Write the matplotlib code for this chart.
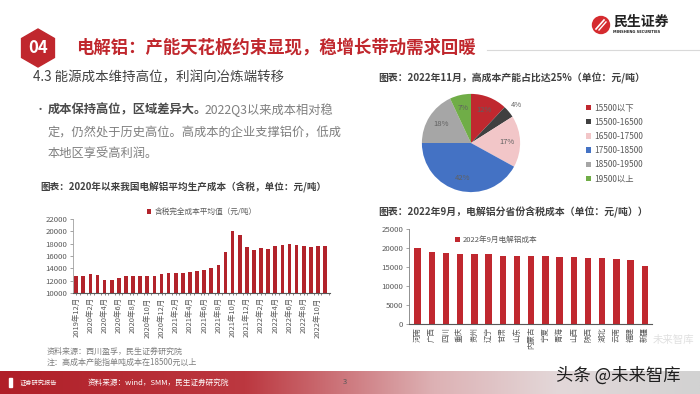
import numpy as np
import matplotlib
matplotlib.use("Agg")
import matplotlib.pyplot as plt
from matplotlib.patches import Polygon, Circle, Rectangle
from matplotlib.colors import LinearSegmentedColormap

plt.rcParams['font.family'] = ['Noto Sans CJK SC', 'DejaVu Sans']
plt.rcParams['axes.unicode_minus'] = False

# ---- data ----
months = ['2019年12月', '2020年1月', '2020年2月', '2020年3月', '2020年4月', '2020年5月',
          '2020年6月', '2020年7月', '2020年8月', '2020年9月', '2020年10月', '2020年11月',
          '2020年12月', '2021年1月', '2021年2月', '2021年3月', '2021年4月', '2021年5月',
          '2021年6月', '2021年7月', '2021年8月', '2021年9月', '2021年10月', '2021年11月',
          '2021年12月', '2022年1月', '2022年2月', '2022年3月', '2022年4月', '2022年5月',
          '2022年6月', '2022年7月', '2022年8月', '2022年9月', '2022年10月', '2022年11月']
avg_cost = [12800, 12800, 13000, 12900, 12100, 12100, 12400, 12800, 12700, 12800,
            12800, 12800, 13000, 13200, 13200, 13200, 13400, 13600, 13800, 14000,
            14500, 16600, 20000, 19400, 17400, 16900, 17300, 17200, 17600, 17800,
            18000, 17800, 17600, 17500, 17600, 17700]

pie_labels = ['15500以下', '15500-16500', '16500-17500', '17500-18500', '18500-19500', '19500以上']
pie_share = [12, 4, 17, 42, 18, 7]
pie_colors = ['#C0282F', '#404040', '#F2C6C8', '#4472C4', '#A6A6A6', '#70AD47']

provinces = ['河南', '广西', '四川', '重庆', '贵州', '辽宁', '甘肃', '山东', '内蒙古',
             '宁夏', '青海', '山西', '陕西', '湖北', '云南', '福建', '新疆']
prov_cost = [20000, 19000, 18700, 18500, 18500, 18300, 17900, 17900, 17900,
             17800, 17600, 17600, 17400, 17300, 17000, 16800, 15300]

W, H = 700, 394
TXT = '#404040'


def px(x0, y0, x1, y1):
    return [x0 / W, 1 - y1 / H, (x1 - x0) / W, (y1 - y0) / H]


fig = plt.figure(figsize=(7, 3.94), dpi=100)
fig.patch.set_facecolor('white')

# ---- slide background / decorations (pixel coords) ----
bg = fig.add_axes([0, 0, 1, 1], zorder=0)
bg.axis('off')

cmap = LinearSegmentedColormap.from_list(
    'foot', [(0, '#B01F28'), (0.35, '#BC3840'), (0.62, '#DDB1B4'), (0.8, '#E3D8D9'), (1, '#D2D2D2')])
bg.imshow(np.linspace(0, 1, 256)[None, :], extent=[0, 700, 394, 371], aspect='auto', cmap=cmap)
bg.set_xlim(0, W)
bg.set_ylim(H, 0)

# badge + title
ang = np.deg2rad([90, 150, 210, 270, 330, 30])
hexa = np.column_stack([38 + 19 * np.cos(ang), 48 - 19 * np.sin(ang)])
bg.add_patch(Polygon(hexa, closed=True, color='#C0272D'))
bg.text(38, 48, '04', color='white', fontsize=12, fontweight='bold', ha='center', va='center')
bg.text(76, 48, '电解铝：产能天花板约束显现，稳增长带动需求回暖', color='#C0272D',
        fontsize=12.5, fontweight='bold', va='center')
bg.plot([487, 700], [50, 50], color='#D9D9D9', lw=0.8)

# logo
bg.add_patch(Circle((601, 25), 8.5, color='#D52B2F'))
bg.plot([596, 604], [29, 20], color='white', lw=1.2)
bg.plot([599, 606], [30, 22], color='white', lw=1.0)
bg.text(613, 22, '民生证券', fontsize=10, fontweight='bold', color='#222222', va='center')
bg.text(613, 32, 'MINSHENG SECURITIES', fontsize=2.6, fontweight='bold', color='#222222',
        va='center', family='DejaVu Sans')

bg.text(33, 77, '4.3 能源成本维持高位，利润向冶炼端转移', fontsize=9.7, color=TXT,
        fontweight='medium', va='center')

# bullet
bg.text(35, 110, '•', fontsize=8, color='#595959', va='center')
t1 = bg.text(48, 110, '成本保持高位，区域差异大。', fontsize=8.8, fontweight='bold',
             color='#4A4A4A', va='center')
bg.annotate('2022Q3以来成本相对稳', xy=(1, 0.5), xycoords=t1, xytext=(-2, 0),
            textcoords='offset points', fontsize=8.8, color='#7F7F7F', va='center', ha='left')
bg.text(48, 132, '定，仍然处于历史高位。高成本的企业支撑铝价，低成', fontsize=8.8,
        color='#7F7F7F', va='center')
bg.text(48, 153, '本地区享受高利润。', fontsize=8.8, color='#7F7F7F', va='center')

# chart titles
bg.text(40, 187, '图表：2020年以来我国电解铝平均生产成本（含税，单位：元/吨）',
        fontsize=6.9, fontweight='bold', color=TXT, va='center')
bg.text(378, 78, '图表：2022年11月，高成本产能占比达25%（单位：元/吨）',
        fontsize=7.1, fontweight='bold', color=TXT, va='center')
bg.text(378, 212, '图表：2022年9月，电解铝分省份含税成本（单位：元/吨））',
        fontsize=7.1, fontweight='bold', color=TXT, va='center')

# sources / footer
bg.text(47, 351, '资料来源：西川盈孚，民生证券研究院', fontsize=5.8, color='#7F7F7F', va='center')
bg.text(47, 362, '注：高成本产能指单吨成本在18500元以上', fontsize=5.8, color='#7F7F7F', va='center')
bg.add_patch(Rectangle((9, 378), 3, 9, color='white'))
bg.text(20, 383, '证券研究报告', fontsize=4.5, color='white', va='center')
bg.text(88, 383, '资料来源：wind，SMM，民生证券研究院', fontsize=5.5, color='white', va='center')
bg.text(345, 382, '3', fontsize=5.5, color='#595959', va='center', ha='center')
bg.text(653, 340, '未来智库', fontsize=7.5, color='#E0E0E0', va='center')
bg.text(556, 376, '头条 @未来智库', fontsize=12.5, color='#1E1E1E', va='center')

# ---- left bar chart ----
ax1 = fig.add_axes(px(73, 219, 330, 293))
x1 = np.arange(len(months))
ax1.bar(x1, avg_cost, width=0.52, color='#B2232B', label='含税完全成本平均值（元/吨）')
ax1.set_ylim(10000, 22000)
ax1.set_yticks(np.arange(10000, 22001, 2000))
ax1.set_xlim(-0.45, 35.7)
ax1.set_xticks(x1[::2])
ax1.set_xticklabels(months[::2], rotation=90, fontsize=5.4, color='#595959')
ax1.set_xticks(x1 + 0.5, minor=True)
ax1.tick_params(axis='y', labelsize=5.6, labelcolor='#595959', length=2, width=0.5,
                color='#7f7f7f', pad=2)
ax1.tick_params(axis='x', which='both', length=1.5, width=0.5, color='#595959', pad=1.5)
for s in ['top', 'right']:
    ax1.spines[s].set_visible(False)
ax1.spines['left'].set_color('#A0A0A0')
ax1.spines['left'].set_linewidth(0.6)
ax1.spines['bottom'].set_color('#595959')
ax1.spines['bottom'].set_linewidth(0.8)
ax1.legend(loc='center', bbox_to_anchor=(0.5, 1.09), frameon=False, fontsize=5.5,
           handlelength=0.6, handleheight=0.6, handletextpad=0.4, labelcolor='#595959')

# ---- pie ----
ax2 = fig.add_axes(px(409, 81, 533, 205))
wedges, _ = ax2.pie(pie_share, colors=pie_colors, startangle=90, counterclock=False, radius=0.99)
ax2.set_xlim(-1.25, 1.25)
ax2.set_ylim(-1.25, 1.25)
ax2.set_aspect('equal')
for w, v in zip(wedges, pie_share):
    mid = np.deg2rad((w.theta1 + w.theta2) / 2)
    r = 1.2 if v < 5 else 0.72
    ax2.text(r * np.cos(mid), r * np.sin(mid), f'{v}%', fontsize=5.5, color='#606060',
             ha='center', va='center')
fig.legend(wedges, pie_labels, loc='upper left', bbox_to_anchor=(578 / W, 1 - 96 / H),
           frameon=False, fontsize=6, handlelength=0.6, handleheight=0.6,
           handletextpad=0.4, labelspacing=0.62, labelcolor='#595959')

# ---- right bar chart ----
ax3 = fig.add_axes(px(409, 229, 652, 324))
x3 = np.arange(len(provinces))
ax3.bar(x3, prov_cost, width=0.45, color='#C0282F', label='2022年9月电解铝成本')
ax3.set_ylim(0, 25000)
ax3.set_yticks(np.arange(0, 25001, 5000))
ax3.set_xlim(-0.6, 16.5)
ax3.set_xticks(x3)
ax3.set_xticklabels(provinces, rotation=90, fontsize=5.4, color='#595959')
ax3.tick_params(axis='y', labelsize=5.6, labelcolor='#595959', length=2, width=0.5,
                color='#7f7f7f', pad=2)
ax3.tick_params(axis='x', length=0, pad=2)
for s in ['top', 'right']:
    ax3.spines[s].set_visible(False)
ax3.spines['left'].set_color('#7F7F7F')
ax3.spines['left'].set_linewidth(0.6)
ax3.spines['bottom'].set_color('#595959')
ax3.spines['bottom'].set_linewidth(0.8)
ax3.legend(loc='upper center', bbox_to_anchor=(0.36, 1.0), frameon=False, fontsize=5.5,
           handlelength=0.6, handleheight=0.6, handletextpad=0.4, labelcolor='#595959')

fig.savefig('out.png', dpi=100)
